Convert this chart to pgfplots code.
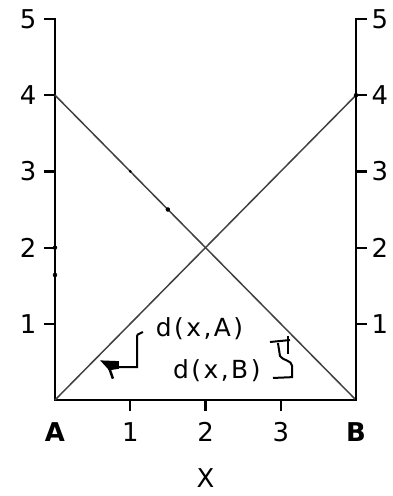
\documentclass[border=0pt]{standalone}
\usepackage{pgfplots}
\pgfplotsset{compat=1.18}
\usepackage{fontspec}
\setmainfont{DejaVu Sans}
\newfontfamily\annfont{DejaVu Sans}[LetterSpace=10]

\begin{document}
\begin{tikzpicture}
\pgfplotsset{
  common/.style={
    scale only axis, width=301bp, height=381bp,
    xmin=0, xmax=4, ymin=0, ymax=5,
    ytick={1,2,3,4,5},
    /pgf/number format/assume math mode=true,
    clip=false,
  },
  lines/.style={
    every outer x axis line/.append style={line width=2.5bp, -, line cap=rect},
    every outer y axis line/.append style={line width=2.5bp, -, line cap=rect},
    axis line style={line width=2.5bp, -, line cap=rect},
    tick style={line width=2.2bp, black},
    major tick length=11bp,
    tick align=outside,
    tick label style={font=\fontsize{26}{30}\selectfont},
  }
}
% main axis: bottom and left lines, distances to A and B
\begin{axis}[common,
  axis x line=bottom, axis y line=left, lines,
  xtick={1,2,3},
  extra x ticks={0,4},
  extra x tick labels={\textbf{A},\textbf{B}},
  extra x tick style={major tick style={draw=none}},
  xticklabel style={yshift=-8bp},
  yticklabel style={xshift=-4bp},
  xlabel={X},
  xlabel style={font=\fontsize{26}{30}\selectfont, at={(axis description cs:0.5,-0.205)}, anchor=center},
]
\addplot[black!75, line width=1.5bp] coordinates {(0,4) (4,0)};
\addplot[black!75, line width=1.5bp] coordinates {(0,0) (4,4)};
\addplot[only marks, mark=*, mark size=2bp, black] coordinates {(1.5,2.5) (0,1.64) (4,4) (0,2)};
\addplot[only marks, mark=*, mark size=1.2bp, black] coordinates {(1,3)};

\node[font=\annfont\fontsize{25}{30}\selectfont] at (axis cs:1.92,0.93) {d(x,A)};
\node[font=\annfont\fontsize{25}{30}\selectfont] at (axis cs:2.15,0.39) {d(x,B)};

% hooked pointer for d(x,A)
\draw[line width=2bp] (axis cs:1.169,0.892) -- (axis cs:1.10,0.86) -- (axis cs:1.09,0.84)
  -- (axis cs:1.09,0.433) -- (axis cs:0.80,0.433);
\fill (axis cs:0.60,0.52) -- (axis cs:0.85,0.51) -- (axis cs:0.85,0.41) -- (axis cs:0.72,0.39) -- cycle;
\draw[line width=2.5bp] (axis cs:0.72,0.42) -- (axis cs:0.77,0.28);

% squiggle for d(x,B)
\draw[line width=2bp] (axis cs:2.857,0.761) -- (axis cs:3.123,0.787);
\draw[line width=2bp] (axis cs:3.096,0.84) -- (axis cs:3.096,0.604);
\draw[line width=2bp] (axis cs:2.963,0.748) -- (axis cs:2.99,0.577)
  .. controls (axis cs:3.02,0.52) and (axis cs:3.15,0.52) .. (axis cs:3.15,0.45)
  -- (axis cs:3.15,0.30) -- (axis cs:2.897,0.289);
\end{axis}
% right-hand scale
\begin{axis}[common,
  axis x line=none, axis y line*=right, lines,
  yticklabel style={xshift=1bp},
]
\end{axis}
\pgfresetboundingbox
\path[use as bounding box] (-55bp,-96bp) rectangle (338bp,400bp);
\end{tikzpicture}
\end{document}
